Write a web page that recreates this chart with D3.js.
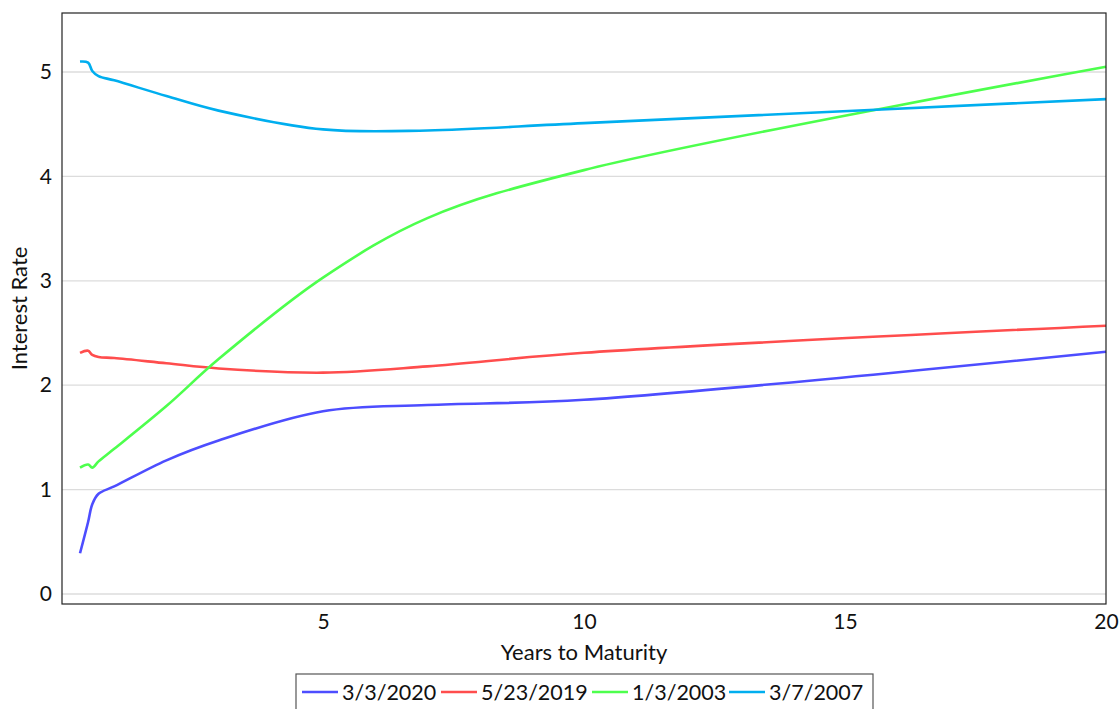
<!DOCTYPE html>
<html><head><meta charset="utf-8">
<script src="https://cdn.jsdelivr.net/npm/d3@7"></script>
<style>
body{margin:0;background:#fff;}
text{font-family:Lato,"Open Sans",sans-serif;fill:#111;}
</style></head>
<body><svg id="c" width="1120" height="709"></svg>
<script>
const maturities = [0.345, 0.5, 0.58, 0.7, 1, 2, 3, 5, 7, 10, 20];
const rates2020 = [0.39, 0.69, 0.86, 0.96, 1.03, 1.28, 1.47, 1.75, 1.81, 1.86, 2.32];
const rates2019 = [2.31, 2.33, 2.29, 2.27, 2.26, 2.21, 2.16, 2.12, 2.18, 2.31, 2.57];
const rates2003 = [1.21, 1.24, 1.21, 1.27, 1.39, 1.80, 2.25, 3.03, 3.60, 4.06, 5.05];
const rates2007 = [5.10, 5.09, 5.01, 4.96, 4.92, 4.77, 4.63, 4.45, 4.44, 4.51, 4.74];
const seriesNames = ["3/3/2020", "5/23/2019", "1/3/2003", "3/7/2007"];
const seriesColors = ["#4d4dff", "#ff4d4d", "#4dff4d", "#00aeef"];
const xTicks = [5, 10, 15, 20];
const yTicks = [0, 1, 2, 3, 4, 5];

const series = [rates2020, rates2019, rates2003, rates2007].map((v, i) => ({
  name: seriesNames[i], color: seriesColors[i],
  pts: maturities.map((m, j) => [m, v[j]])
}));

const svg = d3.select("#c");
const L = 62, R = 1106, T = 13, B = 604;
const x = d3.scaleLinear().domain([0, 20]).range([L, R]);
const y = d3.scaleLinear().domain([-0.096, 5.565]).range([B, T]);

// grid
svg.append("g").selectAll("line").data(yTicks).join("line")
  .attr("x1", L).attr("x2", R).attr("y1", d => y(d)).attr("y2", d => y(d))
  .attr("stroke", "#dcdcdc").attr("stroke-width", 1.3);

// lines
const line = d3.line().x(d => x(d[0])).y(d => y(d[1])).curve(d3.curveCatmullRom.alpha(0.5));
svg.append("g").selectAll("path").data(series).join("path")
  .attr("d", d => line(d.pts)).attr("fill", "none")
  .attr("stroke", d => d.color).attr("stroke-width", 2.6);

// frame
svg.append("rect").attr("x", L).attr("y", T).attr("width", R - L).attr("height", B - T)
  .attr("fill", "none").attr("stroke", "#222").attr("stroke-width", 1.2);

// axes (labels only)
const xa = svg.append("g").attr("transform", `translate(0,${B})`)
  .call(d3.axisBottom(x).tickValues(xTicks).tickFormat(d3.format("d")).tickSize(0).tickPadding(10));
const ya = svg.append("g").attr("transform", `translate(${L},0)`)
  .call(d3.axisLeft(y).tickValues(yTicks).tickFormat(d3.format("d")).tickSize(0).tickPadding(10));
[xa, ya].forEach(a => {
  a.select(".domain").remove();
  a.selectAll("text").style("font-family", "Lato, 'Open Sans', sans-serif").style("font-size", "21px").attr("fill", "#111");
});

svg.append("text").attr("x", (L + R) / 2).attr("y", 660).attr("text-anchor", "middle")
  .style("font-size", "22px").text("Years to Maturity");
svg.append("text").attr("transform", `translate(27,${(T + B) / 2}) rotate(-90)`)
  .attr("text-anchor", "middle").style("font-size", "22px").text("Interest Rate");

// legend
const lg = svg.append("g");
lg.append("rect").attr("x", 296).attr("y", 674).attr("width", 577).attr("height", 40)
  .attr("fill", "#fff").attr("stroke", "#555").attr("stroke-width", 1.2);
const lx = [302, 441, 592, 729];
series.forEach((s, i) => {
  lg.append("line").attr("x1", lx[i]).attr("x2", lx[i] + 36).attr("y1", 692).attr("y2", 692)
    .attr("stroke", s.color).attr("stroke-width", 2.6);
  lg.append("text").attr("x", lx[i] + 40).attr("y", 700).style("font-size", "21.5px").text(s.name);
});
</script></body></html>
